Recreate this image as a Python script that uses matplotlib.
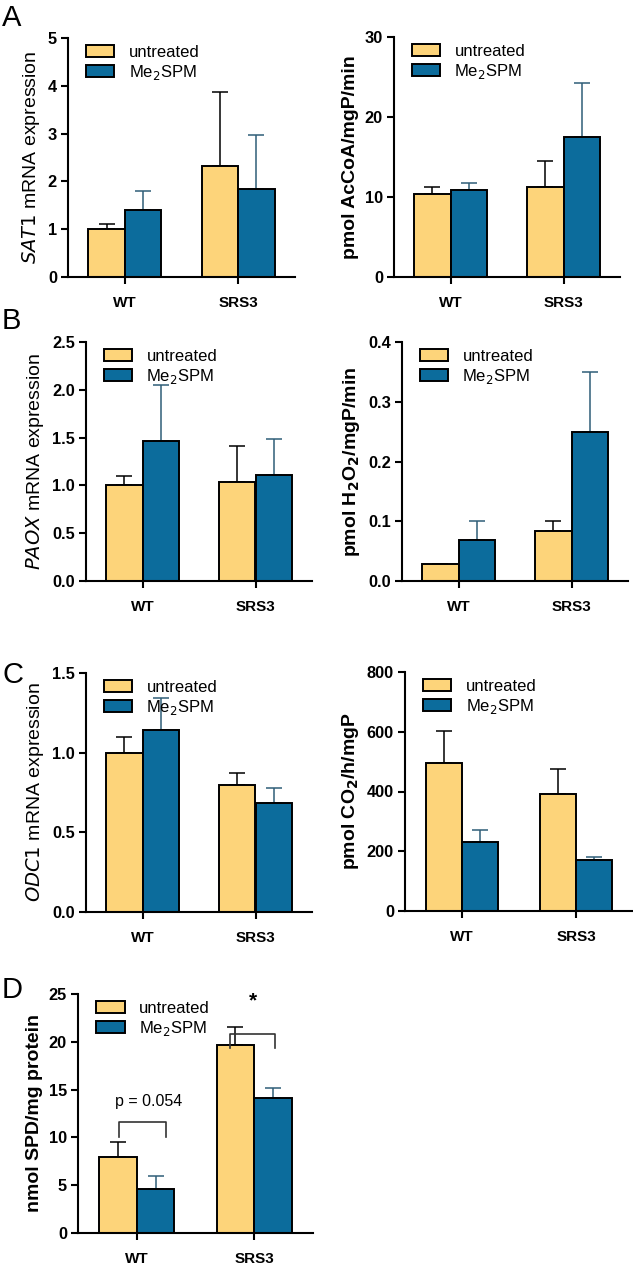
import matplotlib
matplotlib.use("Agg")
import matplotlib.pyplot as plt
from matplotlib.patches import Patch

plt.rcParams['font.family'] = ['Liberation Sans', 'DejaVu Sans']

groups = ['WT', 'SRS3']
series = ['untreated', 'Me$_2$SPM']

# mean values and upper error bar ends
sat1_mean = [[1.0, 2.32], [1.4, 1.85]]
sat1_top = [[1.1, 3.87], [1.8, 2.98]]
ssat_mean = [[10.4, 11.2], [10.9, 17.5]]
ssat_top = [[11.2, 14.5], [11.7, 24.3]]
paox_mean = [[1.0, 1.04], [1.46, 1.11]]
paox_top = [[1.1, 1.41], [2.05, 1.49]]
pao_mean = [[0.028, 0.084], [0.069, 0.25]]
pao_top = [[0.028, 0.1], [0.1, 0.35]]
odc1_mean = [[1.0, 0.8], [1.14, 0.685]]
odc1_top = [[1.1, 0.87], [1.34, 0.78]]
odc_mean = [[495, 390], [232, 172]]
odc_top = [[603, 475], [272, 182]]
spd_mean = [[7.9, 19.7], [4.6, 14.1]]
spd_top = [[9.5, 21.5], [6.0, 15.2]]

yellow = '#FDD47A'
blue = '#0C6C9C'
err_cols = ['black', '#2F5E78']

W, H = 633, 1265
fig = plt.figure(figsize=(W / 100, H / 100), dpi=100)


def make_ax(x0, x1, ytop, ybot):
    return fig.add_axes([x0 / W, 1 - ybot / H, (x1 - x0) / W, (ybot - ytop) / H])


def panel(ax, means, tops, ymax, ystep, fmt, ylabel, lab_bold=True):
    bw = 0.32
    cols = [yellow, blue]
    for i in range(2):
        xs = [g + (i - 0.5) * bw for g in range(2)]
        ax.bar(xs, means[i], bw, color=cols[i], edgecolor='black', linewidth=1.4, zorder=2)
        errs = [t - m for t, m in zip(tops[i], means[i])]
        ax.errorbar(xs, means[i], yerr=[[0, 0], errs], fmt='none', ecolor=err_cols[i],
                    elinewidth=1.1, capsize=6, capthick=1.1, zorder=1)
    ax.set_xlim(-0.5, 1.5)
    ax.set_ylim(0, ymax)
    ticks = []
    v = 0
    while v <= ymax + 1e-9:
        ticks.append(v)
        v += ystep
    ax.set_yticks(ticks)
    ax.set_yticklabels([fmt.format(t) for t in ticks], fontweight='bold', fontsize=11.8)
    ax.set_xticks([0, 1])
    ax.set_xticklabels(groups, fontweight='bold', fontsize=11)
    for s in ['top', 'right']:
        ax.spines[s].set_visible(False)
    for s in ['left', 'bottom']:
        ax.spines[s].set_linewidth(1.5)
    ax.spines['left'].set_bounds(0, ymax)
    ax.tick_params(direction='out', length=5, width=1.5, pad=3)
    ax.tick_params(axis='x', pad=9)
    ax.set_ylabel(ylabel, fontsize=14, fontweight='bold' if lab_bold else 'normal', labelpad=4)
    handles = [Patch(facecolor=yellow, edgecolor='black', linewidth=1.4),
               Patch(facecolor=blue, edgecolor='black', linewidth=1.4)]
    ax.legend(handles, series, loc='upper left', bbox_to_anchor=(0.05, 1.0), frameon=False,
              fontsize=12, handlelength=1.7, handleheight=0.75, handletextpad=0.85,
              labelspacing=0.2, borderaxespad=0)


ax = make_ax(68, 295, 38, 277)
panel(ax, sat1_mean, sat1_top, 5, 1, '{:.0f}', '$\\mathit{SAT1}$ mRNA expression', False)
ax = make_ax(394, 620, 37, 277)
panel(ax, ssat_mean, ssat_top, 30, 10, '{:.0f}', 'pmol AcCoA/mgP/min')
ax = make_ax(86, 312, 342, 581)
panel(ax, paox_mean, paox_top, 2.5, 0.5, '{:.1f}', '$\\mathit{PAOX}$ mRNA expression', False)
ax = make_ax(402, 628, 342, 581)
panel(ax, pao_mean, pao_top, 0.4, 0.1, '{:.1f}', 'pmol H$_\\mathbf{2}$O$_\\mathbf{2}$/mgP/min')
ax = make_ax(86, 312, 673, 912)
panel(ax, odc1_mean, odc1_top, 1.5, 0.5, '{:.1f}', '$\\mathit{ODC1}$ mRNA expression', False)
ax = make_ax(405, 633, 672, 911)
panel(ax, odc_mean, odc_top, 800, 200, '{:.0f}', 'pmol CO$_\\mathbf{2}$/h/mgP')
axd = make_ax(78, 313, 994, 1233)
panel(axd, spd_mean, spd_top, 25, 5, '{:.0f}', 'nmol SPD/mg protein')

# significance brackets in panel D
axd.plot([-0.15, -0.15, 0.25, 0.25], [10.0, 11.6, 11.6, 10.0], color='#333333', lw=1.2)
axd.text(0.1, 13.0, 'p = 0.054', ha='center', va='bottom', fontsize=11.5)
axd.plot([0.79, 0.79, 1.18, 1.18], [19.3, 20.8, 20.8, 19.3], color='#333333', lw=1.2)
axd.text(0.985, 23.3, '*', ha='center', va='bottom', fontsize=15, fontweight='bold')

for letter, y in [('A', 4), ('B', 307), ('C', 661), ('D', 976)]:
    fig.text(2 / W, 1 - y / H, letter, fontsize=21, va='top', ha='left')

fig.savefig('out.png', dpi=100)
